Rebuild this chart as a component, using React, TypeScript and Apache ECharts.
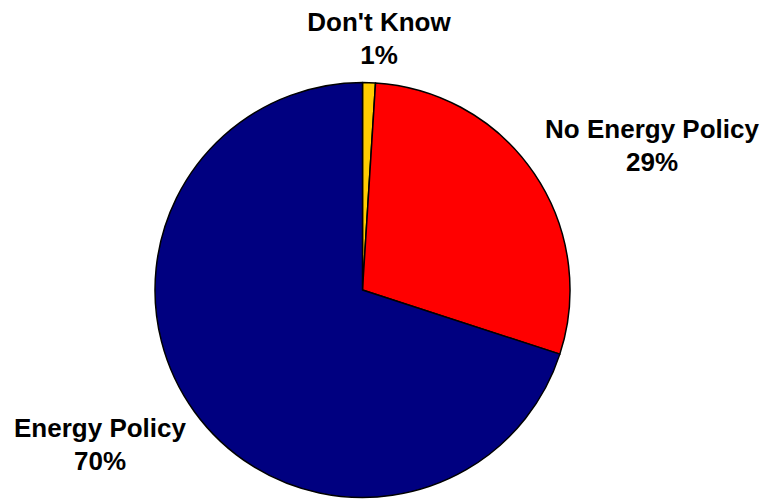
import React, { useEffect, useRef } from "react";
import * as echarts from "echarts";

const categories = ["Don't Know", "No Energy Policy", "Energy Policy"];
const values = [1, 29, 70];
const colors = ["#FFCC00", "#FF0000", "#000080"];
const labelSpots: [number, number][] = [
  [379, 38.5],
  [652, 145],
  [100, 444.5],
];

export default function App() {
  const ref = useRef<HTMLDivElement>(null);
  useEffect(() => {
    document.body.style.margin = "0";
    const chart = echarts.init(ref.current!, null, { renderer: "svg" });
    chart.setOption({
      animation: false,
      backgroundColor: "#ffffff",
      series: [
        {
          type: "pie",
          center: [362.5, 290],
          radius: 207.5,
          startAngle: 90,
          clockwise: true,
          avoidLabelOverlap: false,
          itemStyle: { borderColor: "#000000", borderWidth: 1.5 },
          label: {
            show: true,
            position: "outside",
            formatter: "{b}\n{c}%",
            fontFamily: "'Liberation Sans', Arial, sans-serif",
            fontWeight: "bold",
            fontSize: 26,
            lineHeight: 33,
            color: "#000000",
            align: "center",
          },
          labelLine: { show: false },
          labelLayout: (params: any) => {
            const p = labelSpots[params.dataIndex];
            return { x: p[0], y: p[1], align: "center", verticalAlign: "middle" };
          },
          emphasis: { disabled: true },
          data: categories.map((name, i) => ({
            name,
            value: values[i],
            itemStyle: { color: colors[i] },
          })),
        },
      ],
    });
    return () => chart.dispose();
  }, []);
  return <div ref={ref} style={{ width: 764, height: 500 }} />;
}
